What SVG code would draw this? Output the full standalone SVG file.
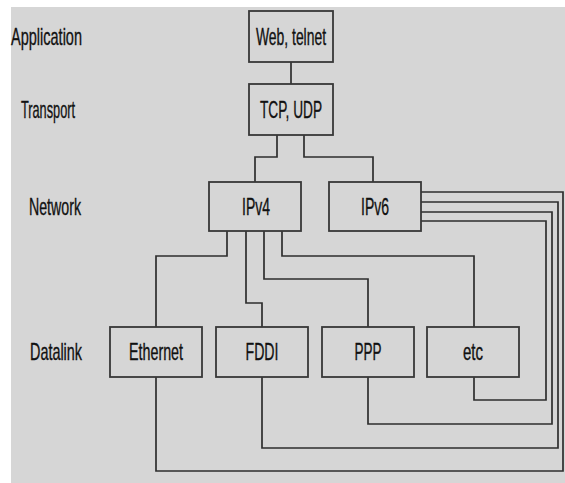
<svg xmlns="http://www.w3.org/2000/svg" width="565" height="483" viewBox="0 0 565 483">
<style>
.bg{fill:#d6d6d6}
.box{fill:#d6d6d6;stroke:#383838;stroke-width:1.8}
.c{fill:none;stroke:#2e2e2e;stroke-width:1.7}
text{font-family:"Liberation Sans",Arial,sans-serif;font-size:24px;fill:#111;stroke:#111;stroke-width:0.35}
.m{text-anchor:middle}
</style>
<rect class="bg" x="11" y="7" width="554" height="476"/>
<g id="layer-labels">
<text x="11" y="45" textLength="71" lengthAdjust="spacingAndGlyphs">Application</text>
<text x="21" y="118" textLength="54" lengthAdjust="spacingAndGlyphs">Transport</text>
<text x="29" y="215" textLength="52" lengthAdjust="spacingAndGlyphs">Network</text>
<text x="30" y="360" textLength="52" lengthAdjust="spacingAndGlyphs">Datalink</text>
</g>
<g id="connectors">
<path class="c" d="M291,62 V84"/>
<path class="c" d="M277,135 V157 H255 V182"/>
<path class="c" d="M304,135 V157 H373 V182"/>
<path class="c" d="M227,231 V256 H156 V327"/>
<path class="c" d="M246,231 V303 H262 V327"/>
<path class="c" d="M264,231 V279 H368 V327"/>
<path class="c" d="M282,231 V256 H474 V327"/>
<path class="c" d="M421,192 H563 V471 H156 V377"/>
<path class="c" d="M421,202 H558 V448 H262 V377"/>
<path class="c" d="M421,212 H552 V424 H368 V377"/>
<path class="c" d="M421,221 H546 V400 H474 V377"/>
</g>
<g id="web">
<rect class="box" x="249" y="11" width="84" height="51"/>
<text class="m" x="291" y="45" textLength="70" lengthAdjust="spacingAndGlyphs">Web, telnet</text>
</g>
<g id="tcp">
<rect class="box" x="249" y="84" width="84" height="51"/>
<text class="m" x="291" y="118" textLength="62" lengthAdjust="spacingAndGlyphs">TCP, UDP</text>
</g>
<g id="ipv4">
<rect class="box" x="209" y="182" width="92" height="49"/>
<text class="m" x="256" y="215" textLength="28" lengthAdjust="spacingAndGlyphs">IPv4</text>
</g>
<g id="ipv6">
<rect class="box" x="329" y="182" width="92" height="49"/>
<text class="m" x="375" y="215" textLength="28" lengthAdjust="spacingAndGlyphs">IPv6</text>
</g>
<g id="ethernet">
<rect class="box" x="110" y="327" width="92" height="50"/>
<text class="m" x="156" y="360" textLength="54" lengthAdjust="spacingAndGlyphs">Ethernet</text>
</g>
<g id="fddi">
<rect class="box" x="216" y="327" width="92" height="50"/>
<text class="m" x="262" y="360" textLength="33" lengthAdjust="spacingAndGlyphs">FDDI</text>
</g>
<g id="ppp">
<rect class="box" x="322" y="327" width="92" height="50"/>
<text class="m" x="368" y="360" textLength="27" lengthAdjust="spacingAndGlyphs">PPP</text>
</g>
<g id="etc">
<rect class="box" x="427" y="327" width="92" height="50"/>
<text class="m" x="473" y="360" textLength="20" lengthAdjust="spacingAndGlyphs">etc</text>
</g>
</svg>
